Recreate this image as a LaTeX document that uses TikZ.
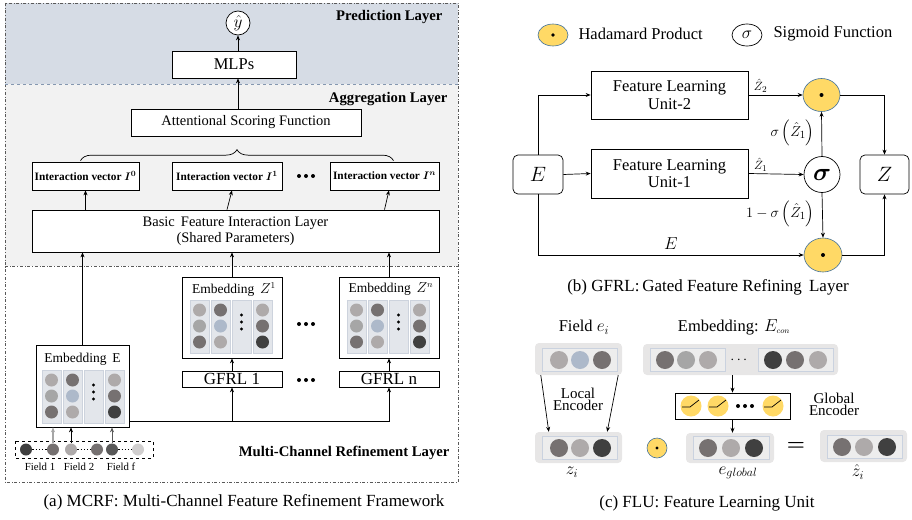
\documentclass[tikz,border=0pt]{standalone}
\usepackage{fontspec}
\setmainfont{Liberation Serif}
\usepackage{amsmath,bm}
\usetikzlibrary{arrows.meta,shapes.geometric,decorations.pathreplacing,calc}
\definecolor{predfill}{HTML}{D6DCE5}
\definecolor{aggfill}{HTML}{F2F2F2}
\definecolor{framec}{HTML}{595959}
\definecolor{divblue}{HTML}{8497B0}
\definecolor{colfill}{HTML}{E3E6EB}
\definecolor{colline}{HTML}{CDD3DD}
\definecolor{cA}{HTML}{AEAAAA}
\definecolor{cB}{HTML}{A6A6A6}
\definecolor{cC}{HTML}{767171}
\definecolor{cD}{HTML}{404040}
\definecolor{cE}{HTML}{ADB9CA}
\definecolor{cF}{HTML}{595959}
\definecolor{cG}{HTML}{D0CECE}
\definecolor{hyel}{HTML}{FFD966}
\definecolor{hblue}{HTML}{41719C}
\definecolor{vecout}{HTML}{E7E6E6}
\definecolor{vecin}{HTML}{EDEDED}
\definecolor{vecline}{HTML}{CAD2DF}
\newcommand\fs[1]{\fontsize{#1}{#1}\selectfont}
% embedding grid: top-left corner
\newcommand\embgrid[2]{%
  \begin{scope}[shift={(#1,#2)}]
    \foreach \cx in {0,21,42,63}{\filldraw[fill=colfill,draw=colline,line width=0.4pt] (\cx,0) rectangle ++(19,53);}
    \fill[cA] (9.5,10) circle (6.5); \fill[cB] (9.5,26) circle (6.5); \fill[cC] (9.5,42) circle (6.5);
    \fill[cC] (30.5,10) circle (6.5); \fill[cE] (30.5,26) circle (6.5); \fill[cA] (30.5,42) circle (6.5);
    \fill[cA] (72.5,10) circle (6.5); \fill[cC] (72.5,26) circle (6.5); \fill[cD] (72.5,42) circle (6.5);
    \fill[black] (51.5,15) circle (1.6); \fill[black] (51.5,22) circle (1.6); \fill[black] (51.5,29) circle (1.6);
  \end{scope}}
\newcommand\threedots[2]{%
  \fill[black] (#1-7,#2) circle (2); \fill[black] (#1,#2) circle (2); \fill[black] (#1+7,#2) circle (2);}
\begin{document}
\begin{tikzpicture}[x=1pt,y=-1pt,
  box/.style={draw,line width=0.7pt,fill=white,inner sep=0pt},
  arr/.style={-{Stealth[length=5pt,width=4pt]},line width=0.7pt},
  ln/.style={line width=0.7pt},
  lbl/.style={font=\fs{14.7}\bfseries},
  txt/.style={font=\fs{14.5}},
  etxt/.style={font=\fs{13.5}},
  hada/.style={ellipse,draw=hblue,fill=hyel,line width=0.6pt,inner sep=0pt},
  vout/.style={rounded corners=4pt,fill=vecout,inner sep=0pt},
  vin/.style={fill=vecin,draw=vecline,line width=0.5pt,inner sep=0pt},
  relu/.style={circle,fill=hyel,minimum size=21pt,inner sep=0pt}]
\useasboundingbox (0,0) rectangle (912,519);
% ================= panel (a) =================
\fill[predfill] (5,3) rectangle (458,84);
\fill[aggfill] (5,84) rectangle (458,266);
\draw[framec,dash dot,line width=0.6pt] (5,3) rectangle (458,482);
\draw[divblue,dashed,line width=0.6pt] (5,84) -- (458,84);
\draw[framec,dash dot,line width=0.6pt] (5,266) -- (458,266);
\node[lbl,anchor=east] (lpred) at (446,17) {Prediction Layer};
\node[lbl,anchor=east] (lagg) at (451,99) {Aggregation Layer};
\node[lbl,anchor=east] (lmcr) at (453,453) {Multi-Channel Refinement Layer};

\node[circle,draw,line width=0.7pt,fill=white,minimum size=24pt,inner sep=0pt,font=\fs{17}] (yhat) at (238,23) {$\hat{y}$};
\node[box,minimum width=124pt,minimum height=27pt,font=\fs{16.5}] (mlp) at (234,64.5) {MLPs};
\node[box,minimum width=230pt,minimum height=27pt,txt] (asf) at (246,122.5) {Attentional Scoring Function};
\draw[arr] (mlp.north -| yhat.south) -- (yhat.south);
\draw[arr] (asf.north -| yhat.south) -- (mlp.south -| yhat.south);

\node[box,minimum width=107pt,minimum height=28pt,font=\fs{11.3}\bfseries] (i0) at (85.5,176) {Interaction vector $\bm{I}^{\bm{0}}$};
\node[box,minimum width=110pt,minimum height=28pt,font=\fs{11.3}\bfseries] (i1) at (227,176) {Interaction vector $\bm{I}^{\bm{1}}$};
\node[box,minimum width=109pt,minimum height=28pt,font=\fs{11.3}\bfseries] (in) at (384.5,176) {Interaction vector $\bm{I}^{\bm{n}}$};
\threedots{306}{176}
\draw[ln,decorate,decoration={brace,amplitude=11pt}] ($(i0.north)+(-5,-1)$) -- ($(in.north)+(9,-1)$);

\node[box,minimum width=407pt,minimum height=42pt,align=center,txt] (bfil) at (235.5,231) {Basic\, Feature Interaction Layer\\[1pt](Shared Parameters)};

% embeddings
\node[box,minimum width=93pt,minimum height=82pt] (embE) at (82.5,386) {};
\node[etxt,anchor=north] (tE) at (82.5,350) {Embedding\, E};
\embgrid{42}{370}
\node[box,minimum width=100pt,minimum height=81pt] (embZ1) at (232,317.5) {};
\node[etxt,anchor=north] (tZ1) at (234,279) {Embedding\, $Z^{1}$};
\embgrid{190}{300}
\node[box,minimum width=100pt,minimum height=81pt] (embZn) at (389,317.5) {};
\node[etxt,anchor=north] (tZn) at (391,279) {Embedding\, $Z^{n}$};
\embgrid{347}{300}
\threedots{306}{324}

\node[box,minimum width=100pt,minimum height=16pt,font=\fs{17}] (g1) at (232,379) {GFRL 1};
\node[box,minimum width=100pt,minimum height=16pt,font=\fs{17}] (gn) at (389,379) {GFRL n};
\threedots{306}{380}

\draw[arr] (embE.north) -- (bfil.south -| embE.north);
\draw[arr] (embZ1.north) -- (bfil.south -| embZ1.north);
\draw[arr] (embZn.north) -- (bfil.south -| embZn.north);
\draw[arr] (i0.south |- bfil.north) -- (i0.south);
\draw[arr] (i1.south |- bfil.north) -- (i1.south -| embZ1.north);
\draw[arr] (in.south |- bfil.north) -- (in.south -| embZn.north);
\draw[arr] (g1.north) -- (embZ1.south);
\draw[arr] (gn.north) -- (embZn.south);
\coordinate (spl) at ($(embE.south east)+(0,-6)$);
\draw[arr] (spl) -| (g1.south);
\draw[arr] (spl) -| (gn.south);

% fields
\draw[dashed,line width=0.6pt] (15,441) rectangle (153,458);
\node[circle,fill=cD,minimum size=12pt,inner sep=0pt] (f1) at (26,449.5) {};
\node[circle,fill=cC,minimum size=12pt,inner sep=0pt] (f2) at (53,449.5) {};
\node[circle,fill=cA,minimum size=12pt,inner sep=0pt] (f3) at (71,449.5) {};
\node[circle,fill=cC,minimum size=12pt,inner sep=0pt] (f4) at (97,449.5) {};
\node[circle,fill=cF,minimum size=12pt,inner sep=0pt] (f5) at (112,449.5) {};
\node[circle,fill=cG,minimum size=12pt,inner sep=0pt] (f6) at (138,449.5) {};
\draw[dotted,line width=1.3pt] (f1) -- (f2);
\draw[dotted,line width=1.3pt] (f3) -- (f4);
\draw[dotted,line width=1.3pt] (f5) -- (f6);
\draw[arr,cB,line width=1.2pt] (f2.north) -- (f2.north |- embE.south);
\draw[arr] (f3.north) -- (f3.north |- embE.south);
\draw[arr,cF] (f5.north) -- (f5.north |- embE.south);
\node[font=\fs{10.8}] (fl1) at (40,467) {Field 1};
\node[font=\fs{10.8}] (fl2) at (79,467) {Field 2};
\node[font=\fs{10.8}] (fl3) at (121,467) {Field f};
\node[font=\fs{17}] (capa) at (244,502) {(a) MCRF: Multi-Channel Feature Refinement Framework};

% ================= panel (b) =================
\node[hada,minimum width=30pt,minimum height=22pt] (lh) at (553,35) {};
\fill[black] (lh.center) circle (1.8);
\node[font=\fs{16.5},anchor=west] (lht) at (575,34) {Hadamard Product};
\node[ellipse,draw,line width=0.7pt,minimum width=30pt,minimum height=22pt,inner sep=0pt,font=\fs{19}] (ls) at (747,35) {$\sigma$};
\node[font=\fs{16.5},anchor=west] (lst) at (770,34) {Sigmoid Function};

\node[draw,rounded corners=5pt,line width=0.7pt,minimum width=50pt,minimum height=39pt,font=\fs{22}] (E) at (538,174.5) {$E$};
\node[box,minimum width=157pt,minimum height=48pt,align=center,font=\fs{16.5}] (flu2) at (669.5,95) {Feature Learning\\[1pt]Unit-2};
\node[box,minimum width=157pt,minimum height=49pt,align=center,font=\fs{16.5}] (flu1) at (669.5,173.5) {Feature Learning\\[1pt]Unit-1};
\node[hada,minimum width=37pt,minimum height=33pt] (h1) at (821.5,95) {};
\fill[black] (h1.center) circle (2);
\node[circle,draw,line width=0.7pt,minimum size=36pt,inner sep=0pt,font=\fs{27}] (sg) at (822,174.5) {$\bm{\sigma}$};
\node[hada,minimum width=38pt,minimum height=34pt] (h2) at (823,255) {};
\fill[black] (h2.center) circle (2);
\node[draw,rounded corners=5pt,line width=0.7pt,minimum width=49pt,minimum height=39pt,font=\fs{22}] (Z) at (884.5,174.5) {$Z$};

\draw[arr] (E.north) |- (flu2.west);
\draw[arr] (E.east) -- (flu1.west);
\draw[arr] (E.south) |- (h2.west) node[pos=0.75,above=2pt,font=\fs{19}] (elab) {$E$};
\draw[arr] (flu2.east) -- (h1.west) node[pos=0.06,anchor=south west,inner sep=2pt,font=\fs{12.5}] (z2lab) {$\hat{Z}_2$};
\draw[arr] (flu1.east) -- (sg.west) node[pos=0.06,anchor=south west,inner sep=2pt,font=\fs{12.5}] (z1lab) {$\hat{Z}_1$};
\draw[arr] (sg.north) -- (h1.south);
\node[font=\fs{15.5},anchor=east] (slab) at (818,133) {$\sigma\left(\hat{Z}_1\right)$};
\draw[arr] (sg.south) -- (h2.north);
\node[font=\fs{15.5},anchor=east] (s2lab) at (818,214) {$1-\sigma\left(\hat{Z}_1\right)$};
\draw[arr] (h1.east) -| (Z.north);
\draw[arr] (h2.east) -| (Z.south);
\node[font=\fs{17}] (capb) at (708,287) {(b) GFRL:\,Gated Feature Refining\, Layer};

% ================= panel (c) =================
\node[font=\fs{16.5}] (tfe) at (584,327) {Field $e_i$};
\node[font=\fs{16.5}] (tec) at (734,327) {Embedding: $E_{\scriptscriptstyle con}$};
% field e_i
\node[vout,minimum width=87pt,minimum height=32pt] (fe) at (578.5,359) {};
\node[vin,minimum width=75pt,minimum height=23pt] (fein) at (579.5,359.5) {};
\fill[cA] (559,360) circle (9); \fill[cE] (580,360) circle (9); \fill[cC] (602,360) circle (9);
% z_i
\node[vout,minimum width=87pt,minimum height=31pt] (zi) at (578.5,447.5) {};
\node[vin,minimum width=75pt,minimum height=23pt] (ziin) at (579.5,447.5) {};
\fill[cC] (559,448) circle (9); \fill[cA] (580,448) circle (9); \fill[cD] (602,448) circle (9);
\draw[arr] ($(fe.south west)+(6,0)$) -- ($(zi.north west)+(14,0)$);
\draw[arr] ($(fe.south east)+(-4,0)$) -- ($(zi.north east)+(-15,0)$);
\node[font=\fs{15},align=center] (le) at (578,399) {Local\\[-3pt]Encoder};
\node[font=\fs{17}] (tzi) at (572,472) {$z_i$};
% E_con
\node[vout,minimum width=195pt,minimum height=31pt] (econ) at (740.5,359.5) {};
\node[vin,minimum width=75pt,minimum height=23pt] (ec1) at (687.5,359.5) {};
\node[vin,minimum width=75pt,minimum height=23pt] (ec2) at (795.5,359.5) {};
\fill[cC] (665,360) circle (9); \fill[cB] (686,360) circle (9); \fill[cA] (708,360) circle (9);
\fill[cD] (773,360) circle (9); \fill[cC] (795,360) circle (9); \fill[cA] (818,360) circle (9);
\node[font=\fs{14}] (edots) at (740,360) {$\cdots$};
% global encoder
\node[box,minimum width=115pt,minimum height=26pt] (genc) at (732.5,406) {};
\foreach \gx/\nm in {691/r1,718/r2,773/r3}{
  \node[relu] (\nm) at (\gx,406) {};
  \draw[line width=0.7pt] (\gx-9,407) -- (\gx-1,407) -- (\gx+8,400);}
\threedots{745}{406}
\node[font=\fs{15},align=center] (ge) at (834,404) {Global\\[-3pt]Encoder};
\draw[arr] (econ.south -| genc.north) -- (genc.north);
% e_global
\node[vout,minimum width=88pt,minimum height=30pt] (eg) at (730,448) {};
\node[vin,minimum width=76pt,minimum height=23pt] (egin) at (731,448) {};
\fill[cC] (708,448) circle (9); \fill[cA] (731,448) circle (9); \fill[cD] (754,448) circle (9);
\draw[arr] (genc.south) -- (genc.south |- eg.north);
\node[font=\fs{17}] (teg) at (738,473) {$e_{global}$};
% hadamard small
\node[hada,circle,minimum size=20pt] (hs) at (657,448) {};
\fill[black] (hs.center) circle (1.6);
% equals
\node[font=\fs{22}\bfseries] (eq) at (796,446) {$\bm{=}$};
% z hat
\node[vout,minimum width=87pt,minimum height=32pt] (zh) at (863.5,446) {};
\node[vin,minimum width=75pt,minimum height=23pt] (zhin) at (864.5,446.5) {};
\fill[cC] (842,447) circle (9); \fill[cA] (864,447) circle (9); \fill[cD] (887,447) circle (9);
\node[font=\fs{17}] (tzh) at (858,472) {$\hat{z}_i$};
\node[font=\fs{17}] (capc) at (707,503) {(c) FLU: Feature Learning Unit};
\end{tikzpicture}
\end{document}
